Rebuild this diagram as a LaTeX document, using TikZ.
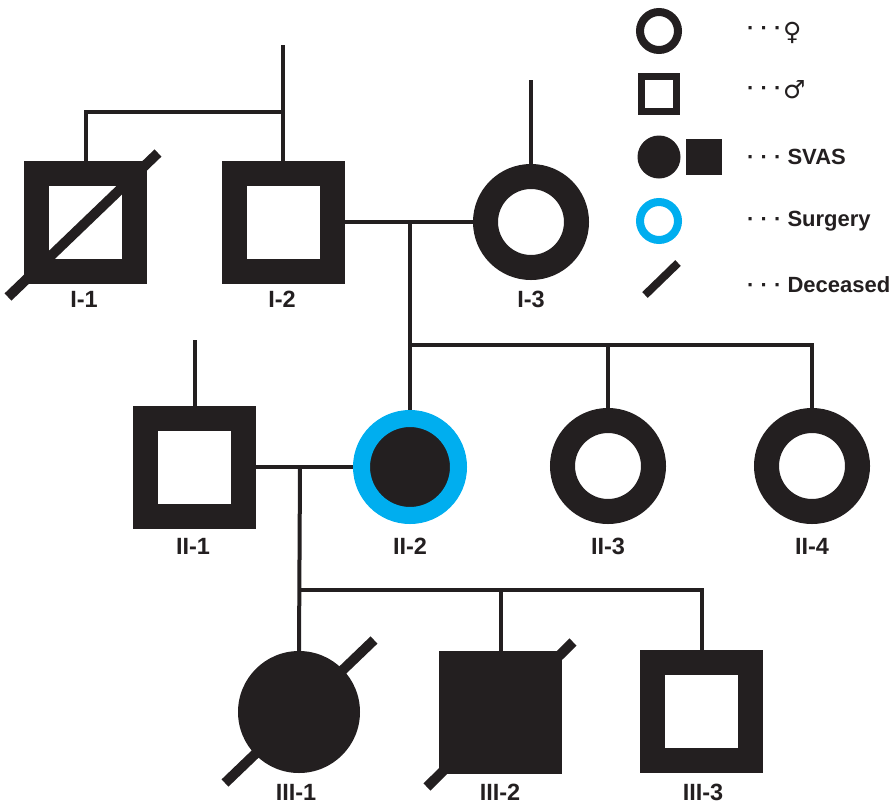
\documentclass[tikz,border=0pt]{standalone}
\usepackage{fontspec}
\setmainfont{Liberation Sans}
\newfontfamily\symfont{DejaVu Sans}
\definecolor{ink}{RGB}{35,31,32}
\definecolor{surg}{RGB}{0,174,239}
\begin{document}
\begin{tikzpicture}[x=1pt,y=-1pt,
  male/.style={rectangle,draw=ink,line width=25pt,minimum size=98pt,inner sep=0pt,fill=white},
  female/.style={circle,draw=ink,line width=25pt,minimum size=91pt,inner sep=0pt,fill=white},
  affm/.style={rectangle,fill=ink,minimum size=123pt,inner sep=0pt,outer sep=0pt},
  afff/.style={circle,fill=ink,minimum size=122pt,inner sep=0pt,outer sep=0pt},
  surgf/.style={circle,fill=ink,draw=surg,line width=17pt,minimum size=97pt,inner sep=0pt},
  link/.style={draw=ink,line width=4pt},
  dead/.style={draw=ink,line width=10pt},
  lab/.style={font=\bfseries\fontsize{23.5}{24}\selectfont,text=ink,inner sep=0pt},
  legtext/.style={font=\bfseries\fontsize{22}{22}\selectfont,text=ink,anchor=west,inner sep=0pt},
  gsym/.style={font=\symfont\fontsize{25}{25}\selectfont,text=ink,anchor=west,inner sep=0pt}]
\useasboundingbox (0,0) rectangle (891,806);
% generation I
\node[male] (I1) at (85.5,222) {};
\node[male] (I2) at (283,222) {};
\node[female] (I3) at (531,222) {};
% generation II
\node[male] (II1) at (194.5,467) {};
\node[surgf] (II2) at (410,467) {};
\node[female] (II3) at (608,466) {};
\node[female] (II4) at (812,466) {};
% generation III
\node[afff] (III1) at (299,712) {};
\node[affm] (III2) at (500.5,712) {};
\node[male] (III3) at (701.5,711.5) {};
% connectors
\coordinate (t0) at (283,45);
\coordinate (t1) at (283,112);
\coordinate (t3) at (531,80);
\coordinate (t4) at (194.5,340);
\coordinate (m1) at (410,222);
\coordinate (s1) at (410,345);
\coordinate (m2) at (300,467);
\coordinate (s2) at (300,590);
\draw[link] (t0) -- (I2.north);
\draw[link] (I1.north) |- (t1);
\draw[link] (t3) -- (I3.north);
\draw[link] (I2.east) -- (I3.west);
\draw[link] (m1) -- (II2.north);
\draw[link] (s1) -| (II4.north);
\draw[link] (II3.north |- s1) -- (II3.north);
\draw[link] (t4) -- (II1.north);
\draw[link] (II1.east) -- (II2.west);
\draw[link] (m2) -- (III1.north);
\draw[link] (s2) -| (III3.north);
\draw[link] (III2.north |- s2) -- (III2.north);
% deceased marks
\draw[dead] (8,297) -- (158,153);
\draw[dead] (225,783) -- (374,640);
\draw[dead] (427,787) -- (573,642);
% labels
\node[lab] (lI1) at (84,299) {I-1};
\node[lab] (lI2) at (282,299) {I-2};
\node[lab] (lI3) at (531,299) {I-3};
\node[lab] (lII1) at (193,546) {II-1};
\node[lab] (lII2) at (410,546) {II-2};
\node[lab] (lII3) at (608,546) {II-3};
\node[lab] (lII4) at (812,546) {II-4};
\node[lab] (lIII1) at (296,792) {III-1};
\node[lab] (lIII2) at (500,792) {III-2};
\node[lab] (lIII3) at (703,792) {III-3};
% legend
\node[circle,draw=ink,line width=8pt,minimum size=38pt,inner sep=0pt] (Lf) at (659,31) {};
\node[rectangle,draw=ink,line width=7pt,minimum size=35pt,inner sep=0pt] (Lm) at (659,94) {};
\node[circle,fill=ink,minimum size=43pt,inner sep=0pt] (Laf) at (659,157) {};
\node[rectangle,fill=ink,minimum size=36pt,inner sep=0pt] (Lam) at (704,157) {};
\node[circle,draw=surg,line width=8pt,minimum size=38pt,inner sep=0pt] (Ls) at (659,221) {};
\draw[draw=ink,line width=8pt] (645,295) -- (678,263);
\node[legtext] (T1) at (747,31) {· · ·};
\node[gsym] (G1) at (783,33) {♀};
\node[legtext] (T2) at (747,91) {· · ·};
\node[gsym] (G2) at (783,90) {♂};
\node[legtext] (T3) at (747,157) {· · · SVAS};
\node[legtext] (T4) at (747,221) {· · · Surgery};
\node[legtext] (T5) at (747,285) {· · · Deceased};
\end{tikzpicture}
\end{document}
